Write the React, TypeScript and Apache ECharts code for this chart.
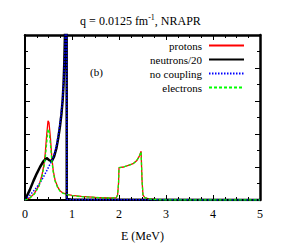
import React, { useEffect, useRef } from "react";
import * as echarts from "echarts";

const titleText = "q = 0.0125 fm";
const titleSup = "-1";
const titleTail = ", NRAPR";
const panelLabel = "(b)";
const xTickLabels = ["0", "1", "2", "3", "4", "5"];
const seriesNames = ["protons", "neutrons/20", "no coupling", "electrons"];

const protons: [number, number][] = [
  [0, 0], [0.1, 0.06], [0.2, 0.2], [0.3, 0.45], [0.36, 0.75], [0.4, 1.05], [0.43, 1.4],
  [0.46, 1.95], [0.49, 2.4], [0.51, 2.35], [0.54, 1.9], [0.57, 1.3], [0.6, 0.9],
  [0.64, 0.6], [0.7, 0.38], [0.75, 0.27], [0.8, 0.22], [0.9, 0.17], [1.0, 0.14],
  [1.2, 0.11], [1.5, 0.08], [1.8, 0.06], [1.94, 0.07], [1.97, 0.15], [1.99, 0.5],
  [2.0, 0.98], [2.1, 1.0], [2.2, 1.05], [2.3, 1.1], [2.38, 1.2], [2.43, 1.32],
  [2.47, 1.48], [2.49, 0.6], [2.51, 0.15], [2.55, 0.07], [2.65, 0.03], [2.8, 0.01],
  [3.0, 0], [5, 0],
];

const neutrons: [number, number][] = [
  [0, 0], [0.05, 0.15], [0.1, 0.3], [0.18, 0.58], [0.25, 0.8], [0.32, 1.0], [0.39, 1.17],
  [0.46, 1.27], [0.52, 1.2], [0.57, 1.18], [0.62, 1.32], [0.67, 1.58], [0.71, 1.9],
  [0.745, 2.24], [0.775, 2.6], [0.8, 3.0], [0.82, 3.5], [0.837, 4.18], [0.85, 5.0],
  [0.87, 7], [0.885, 10], [0.888, 0.03], [1.0, 0.01], [2.0, 0.01], [5, 0],
];

const noCoupling: [number, number][] = [
  [0, 0], [0.1, 0.14], [0.2, 0.3], [0.3, 0.48], [0.39, 0.69], [0.46, 0.88], [0.53, 1.08],
  [0.58, 1.22], [0.63, 1.42], [0.68, 1.72], [0.72, 2.05], [0.76, 2.5], [0.8, 3.05],
  [0.83, 3.8], [0.85, 4.6], [0.87, 6], [0.885, 10], [0.888, 0.02], [1.0, 0.01], [5, 0],
];

const electrons: [number, number][] = [
  [0, 0], [0.1, 0.05], [0.2, 0.18], [0.3, 0.42], [0.36, 0.7], [0.4, 0.98], [0.43, 1.25],
  [0.46, 1.7], [0.49, 2.15], [0.51, 2.1], [0.54, 1.7], [0.57, 1.2], [0.6, 0.85],
  [0.64, 0.57], [0.7, 0.36], [0.75, 0.26], [0.8, 0.21], [0.9, 0.16], [1.0, 0.13],
  [1.2, 0.1], [1.5, 0.08], [1.8, 0.06], [1.94, 0.07], [1.97, 0.15], [1.99, 0.5],
  [2.0, 0.98], [2.1, 1.0], [2.2, 1.05], [2.3, 1.1], [2.38, 1.2], [2.43, 1.32],
  [2.47, 1.46], [2.49, 0.6], [2.51, 0.15], [2.55, 0.07], [2.65, 0.03], [2.8, 0.01],
  [3.0, 0], [5, 0],
];

const FONT = "Liberation Serif";

export default function App() {
  const ref = useRef<HTMLDivElement>(null);
  useEffect(() => {
    if (!ref.current) return;
    const chart = echarts.init(ref.current, null, { renderer: "svg" });
    const axisLine = (w: number) => ({ show: true, onZero: false, lineStyle: { color: "black", width: w } });
    const tick = () => ({ show: true, inside: true, length: 5, lineStyle: { color: "black", width: 1 } });
    const minor = (n: number) => ({ show: true, splitNumber: n, length: 3, lineStyle: { color: "black", width: 1 } });
    chart.setOption({
      animation: false,
      title: {
        left: "center",
        top: 8,
        text: `{a|${titleText}}{s|${titleSup}}{a|${titleTail}}`,
        textStyle: {
          fontFamily: FONT,
          fontWeight: "normal",
          rich: {
            a: { fontFamily: FONT, fontWeight: "normal", fontSize: 12, color: "#000", verticalAlign: "bottom", lineHeight: 14 },
            s: { fontFamily: FONT, fontWeight: "normal", fontSize: 8, color: "#000", verticalAlign: "top", lineHeight: 14, padding: [0, 0, 5, 0] },
          },
        },
      },
      legend: {
        orient: "vertical",
        right: 36,
        top: 40,
        padding: 0,
        align: "right",
        itemWidth: 35,
        itemHeight: 10,
        itemGap: 3,
        itemStyle: { opacity: 0 },
        data: seriesNames,
        textStyle: { fontFamily: FONT, fontSize: 11, color: "#000", padding: [0, 2, 0, 0] },
      },
      graphic: [
        {
          type: "text",
          left: 90,
          top: 66,
          style: { text: panelLabel, fontFamily: FONT, fontSize: 11, fill: "#000" },
        },
      ],
      grid: { left: 25, right: 21, top: 35, bottom: 40 },
      xAxis: [
        {
          type: "value", min: 0, max: 5, interval: 1,
          axisLine: axisLine(2), axisTick: tick(), minorTick: minor(4), splitLine: { show: false },
          axisLabel: {
            fontFamily: FONT, fontSize: 12, color: "#000", margin: 8,
            formatter: (v: number) => xTickLabels[Math.round(v)] ?? "",
          },
          name: "E (MeV)", nameLocation: "middle", nameGap: 30,
          nameTextStyle: { fontFamily: FONT, fontSize: 12, color: "#000" },
        },
        {
          type: "value", min: 0, max: 5, interval: 1, position: "top",
          axisLine: axisLine(2.5), axisTick: tick(), minorTick: minor(4), splitLine: { show: false },
          axisLabel: { show: false },
        },
      ],
      yAxis: [
        {
          type: "value", min: 0, max: 5, interval: 1,
          axisLine: axisLine(2), axisTick: tick(), minorTick: minor(2), splitLine: { show: false },
          axisLabel: { show: false },
        },
        {
          type: "value", min: 0, max: 5, interval: 1, position: "right",
          axisLine: axisLine(2.5), axisTick: tick(), minorTick: minor(2), splitLine: { show: false },
          axisLabel: { show: false },
        },
      ],
      series: [
        {
          name: seriesNames[0], type: "line", data: protons, showSymbol: false, symbol: "none",
          lineStyle: { color: "#ff0000", width: 1.3 }, itemStyle: { color: "#ff0000" }, clip: true,
        },
        {
          name: seriesNames[1], type: "line", data: neutrons, showSymbol: false, symbol: "none",
          lineStyle: { color: "#000", width: 2.5 }, itemStyle: { color: "#000" }, clip: true,
        },
        {
          name: seriesNames[2], type: "line", data: noCoupling, showSymbol: false, symbol: "none",
          lineStyle: { color: "#0000ff", width: 1.5, type: [1.5, 1.5] }, itemStyle: { color: "#0000ff" }, clip: true,
        },
        {
          name: seriesNames[3], type: "line", data: electrons, showSymbol: false, symbol: "none",
          lineStyle: { color: "#00ff00", width: 1.3, type: [3, 2] }, itemStyle: { color: "#00ff00" }, clip: true,
        },
      ],
    });
    return () => chart.dispose();
  }, []);
  return <div ref={ref} style={{ width: 281, height: 247, position: "absolute", left: 0, top: 0 }} />;
}
